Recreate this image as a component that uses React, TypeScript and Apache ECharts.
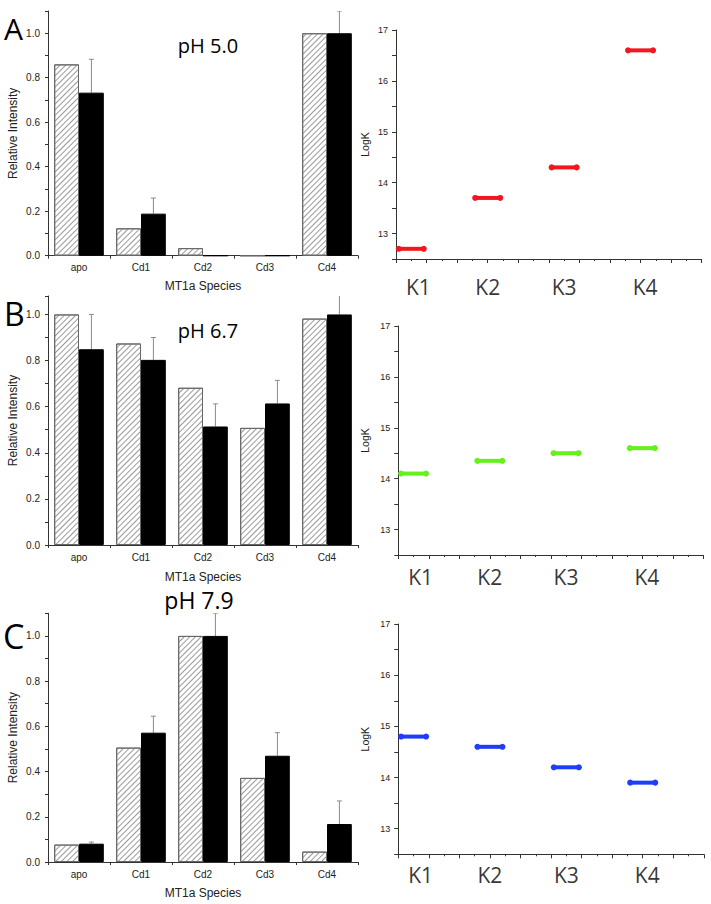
import React, { useEffect, useRef } from 'react';
import * as echarts from 'echarts';

const categories = ['apo', 'Cd1', 'Cd2', 'Cd3', 'Cd4'];

const hatchA = [0.86, 0.123, 0.034, 0, 1.0];
const blackA = [0.733, 0.189, 0, 0, 1.0];
const errA = [0.15, 0.07, 0, 0, 0.1];

const hatchB = [1.0, 0.874, 0.682, 0.508, 0.982];
const blackB = [0.849, 0.803, 0.514, 0.614, 1.0];
const errB = [0.151, 0.097, 0.098, 0.1, 0.1];

const hatchC = [0.077, 0.506, 1.0, 0.372, 0.046];
const blackC = [0.081, 0.572, 1.0, 0.47, 0.168];
const errC = [0.007, 0.073, 0.1, 0.102, 0.102];

const kNames = ['K1', 'K2', 'K3', 'K4'];
const kCenters = [0.5, 3, 5.5, 8];
const kLabelX = [0.73, 3.0, 5.5, 8.15];
const logKA = [12.7, 13.7, 14.3, 16.6];
const logKB = [14.1, 14.35, 14.5, 14.6];
const logKC = [14.8, 14.6, 14.2, 13.9];

const phLabels = ['pH 5.0', 'pH 6.7', 'pH 7.9'];
const panelLetters = ['A', 'B', 'C'];

const AXIS_COLOR = '#333';
const SMALL_FONT = '"Liberation Sans", Arial, sans-serif';
const BIG_FONT = '"Open Sans", "DejaVu Sans", sans-serif';

const leftPanels = [
  { left: 48, top: 11, width: 310, height: 244.7, max: 1.1, nameGap: 24, hatch: hatchA, black: blackA, err: errA },
  { left: 48, top: 296, width: 310, height: 249, max: 1.08, nameGap: 25.5, hatch: hatchB, black: blackB, err: errB },
  { left: 48, top: 613.3, width: 310, height: 248.7, max: 1.1, nameGap: 25, hatch: hatchC, black: blackC, err: errC },
];

const rightPanels = [
  { left: 396, top: 30, width: 305.7, height: 229, labelDy: 27.7, nameGap: 26, vals: logKA, color: '#f2161f' },
  { left: 398.3, top: 326, width: 305, height: 229, labelDy: 21.7, nameGap: 28, vals: logKB, color: '#66f01c' },
  { left: 398.3, top: 624, width: 305.5, height: 230.3, labelDy: 20.7, nameGap: 28, vals: logKC, color: '#1f3cf8' },
];

const letterStyle = [
  { x: 4, y: 28, size: 30 },
  { x: 4, y: 313.5, size: 32 },
  { x: 3, y: 635.5, size: 34 },
];
const phStyle = [
  { x: 208, y: 45, size: 20 },
  { x: 208, y: 330, size: 20 },
  { x: 199, y: 600, size: 23 },
];

function buildOption() {
  const grid: any[] = [];
  const xAxis: any[] = [];
  const yAxis: any[] = [];
  const series: any[] = [];

  leftPanels.forEach((p, i) => {
    grid.push({ left: p.left, top: p.top, width: p.width, height: p.height, containLabel: false, outerBoundsMode: 'none' });
    xAxis.push({
      type: 'category',
      gridIndex: i,
      data: categories,
      name: 'MT1a Species',
      nameLocation: 'middle',
      nameGap: p.nameGap,
      nameTextStyle: { fontFamily: SMALL_FONT, fontSize: 12, color: '#222' },
      axisLine: { lineStyle: { color: AXIS_COLOR, width: 1 } },
      axisTick: { show: true, length: 3, lineStyle: { color: AXIS_COLOR } },
      axisLabel: { fontFamily: SMALL_FONT, fontSize: 10, color: '#222', margin: 7 },
      splitLine: { show: false },
    });
    yAxis.push({
      type: 'value',
      gridIndex: i,
      min: 0,
      max: p.max,
      interval: 0.1,
      name: 'Relative Intensity',
      nameLocation: 'middle',
      nameGap: 29,
      nameTextStyle: { fontFamily: SMALL_FONT, fontSize: 12, color: '#222' },
      axisLine: { show: true, lineStyle: { color: AXIS_COLOR, width: 1 } },
      axisTick: { show: true, length: 3, lineStyle: { color: AXIS_COLOR } },
      axisLabel: {
        fontFamily: SMALL_FONT,
        fontSize: 10,
        color: '#222',
        margin: 8,
        formatter: (v: number) => {
          const k = Math.round(v * 10);
          return k % 2 === 0 && k <= 10 && Math.abs(v * 10 - k) < 1e-6 ? (k / 10).toFixed(1) : '';
        },
      },
      splitLine: { show: false },
    });
    series.push({
      type: 'bar',
      xAxisIndex: i,
      yAxisIndex: i,
      data: p.hatch,
      barWidth: '40%',
      barGap: '0%',
      itemStyle: {
        color: '#ffffff',
        borderColor: '#666',
        borderWidth: 1,
        decal: {
          symbol: 'rect',
          symbolSize: 1,
          color: '#9a9a9a',
          dashArrayX: [1, 0],
          dashArrayY: [1, 3],
          rotation: -Math.PI / 4,
        },
      },
      silent: true,
    });
    series.push({
      type: 'bar',
      xAxisIndex: i,
      yAxisIndex: i,
      data: p.black,
      barWidth: '40%',
      barGap: '0%',
      itemStyle: { color: '#000', borderColor: '#000', borderWidth: 1 },
      silent: true,
    });
    const errData = categories
      .map((c, j) => [c, p.black[j], p.black[j] + p.err[j], p.err[j]])
      .filter((d) => (d[3] as number) > 0);
    series.push({
      type: 'custom',
      xAxisIndex: i,
      yAxisIndex: i,
      data: errData,
      encode: { x: 0, y: [1, 2] },
      clip: true,
      silent: true,
      z: 1,
      renderItem: (params: any, api: any) => {
        const cat = api.value(0);
        const base = api.coord([cat, api.value(1)]);
        const top = api.coord([cat, api.value(2)]);
        const off = api.size([1, 0])[0] * 0.2;
        const x = base[0] + off;
        return {
          type: 'group',
          children: [
            { type: 'line', shape: { x1: x, y1: base[1], x2: x, y2: top[1] }, style: { stroke: '#8a8a8a', lineWidth: 1 } },
            { type: 'line', shape: { x1: x - 2.5, y1: top[1], x2: x + 2.5, y2: top[1] }, style: { stroke: '#8a8a8a', lineWidth: 1 } },
          ],
        };
      },
    });
  });

  rightPanels.forEach((p, k) => {
    const i = k + 3;
    grid.push({ left: p.left, top: p.top, width: p.width, height: p.height, containLabel: false, outerBoundsMode: 'none' });
    xAxis.push({
      type: 'value',
      gridIndex: i,
      min: 0,
      max: 10,
      interval: 1,
      axisLine: { show: true, onZero: false, lineStyle: { color: AXIS_COLOR, width: 1 } },
      axisTick: { show: true, length: 4, lineStyle: { color: AXIS_COLOR } },
      minorTick: { show: true, splitNumber: 2, length: 2, lineStyle: { color: AXIS_COLOR } },
      axisLabel: { show: false },
      splitLine: { show: false },
      minorSplitLine: { show: false },
    });
    yAxis.push({
      type: 'value',
      gridIndex: i,
      min: 12.5,
      max: 17,
      interval: 0.5,
      name: 'LogK',
      nameLocation: 'middle',
      nameGap: p.nameGap,
      nameTextStyle: { fontFamily: SMALL_FONT, fontSize: 10.5, color: '#222' },
      axisLine: { show: true, onZero: false, lineStyle: { color: AXIS_COLOR, width: 1 } },
      axisTick: { show: true, length: 4, lineStyle: { color: AXIS_COLOR } },
      axisLabel: {
        fontFamily: SMALL_FONT,
        fontSize: 9,
        color: '#222',
        margin: 8,
        formatter: (v: number) => (Math.abs(v - Math.round(v)) < 1e-6 ? String(Math.round(v)) : ''),
      },
      splitLine: { show: false },
    });
    series.push({
      type: 'custom',
      xAxisIndex: i,
      yAxisIndex: i,
      data: kCenters.map((c, j) => [c, p.vals[j]]),
      encode: { x: 0, y: 1 },
      silent: true,
      renderItem: (params: any, api: any) => {
        const xc = api.value(0);
        const yv = api.value(1);
        const a = api.coord([xc - 0.41, yv]);
        const b = api.coord([xc + 0.41, yv]);
        return {
          type: 'group',
          children: [
            { type: 'line', shape: { x1: a[0], y1: a[1], x2: b[0], y2: b[1] }, style: { stroke: p.color, lineWidth: 4, lineCap: 'butt' } },
            { type: 'circle', shape: { cx: a[0], cy: a[1], r: 3 }, style: { fill: p.color } },
            { type: 'circle', shape: { cx: b[0], cy: b[1], r: 3 }, style: { fill: p.color } },
          ],
        };
      },
    });
    series.push({
      type: 'scatter',
      xAxisIndex: i,
      yAxisIndex: i,
      symbolSize: 0,
      silent: true,
      data: kNames.map((n, j) => ({ name: n, value: [kLabelX[j], 12.5] })),
      label: {
        show: true,
        position: 'inside',
        offset: [0, p.labelDy],
        formatter: (d: any) => d.name,
        fontFamily: BIG_FONT,
        fontSize: 21,
        color: '#000',
      },
    });
  });

  const graphic: any[] = [];
  panelLetters.forEach((t, i) => {
    graphic.push({
      type: 'text',
      x: letterStyle[i].x,
      y: letterStyle[i].y,
      silent: true,
      style: { text: t, fontFamily: BIG_FONT, fontSize: letterStyle[i].size, fill: '#000', verticalAlign: 'middle' },
    });
  });
  phLabels.forEach((t, i) => {
    graphic.push({
      type: 'text',
      x: phStyle[i].x,
      y: phStyle[i].y,
      silent: true,
      style: { text: t, fontFamily: BIG_FONT, fontSize: phStyle[i].size, fill: '#000', align: 'center', verticalAlign: 'middle' },
    });
  });

  return {
    animation: false,
    backgroundColor: '#ffffff',
    grid,
    xAxis,
    yAxis,
    series,
    graphic,
  };
}

export default function App() {
  const ref = useRef<HTMLDivElement>(null);
  useEffect(() => {
    document.body.style.margin = '0';
    if (!ref.current) return;
    const chart = echarts.init(ref.current, undefined, { renderer: 'svg' });
    chart.setOption(buildOption());
    return () => {
      chart.dispose();
    };
  }, []);
  return <div ref={ref} style={{ width: 711, height: 904 }} />;
}
